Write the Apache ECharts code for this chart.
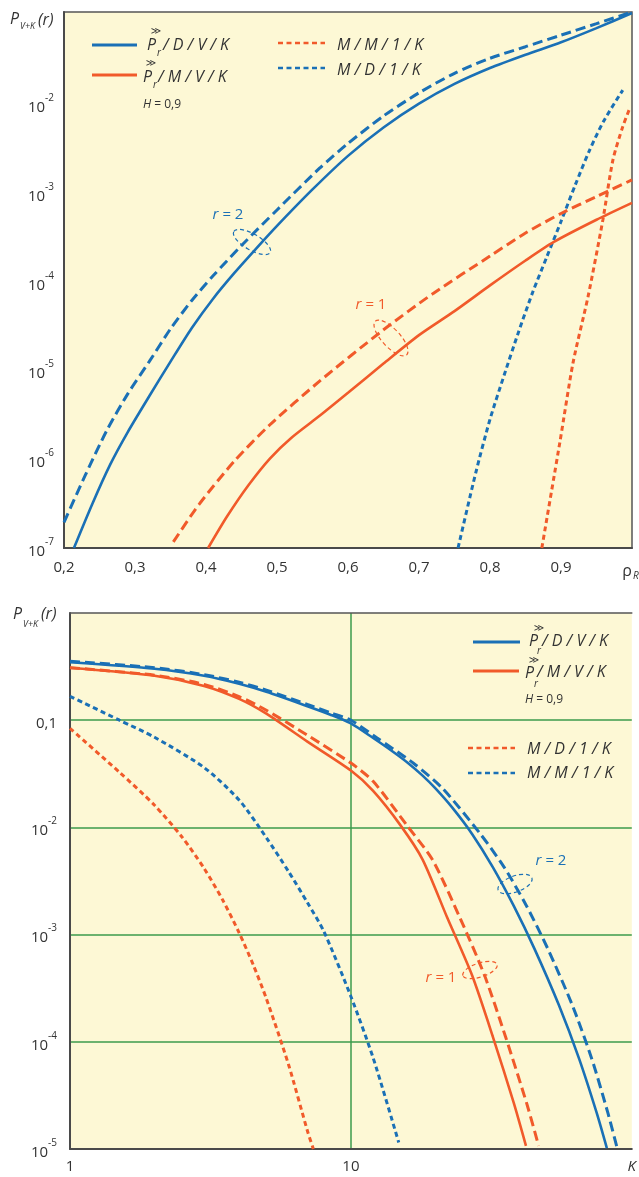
<!DOCTYPE html>
<html><head><meta charset="utf-8">
<script src="https://cdn.jsdelivr.net/npm/echarts@6.0.0/dist/echarts.min.js"></script>
<style>html,body{margin:0;padding:0;background:#fff}#c{width:639px;height:1177px}</style>
</head><body><div id="c"></div>
<script>
// ---------- DATA (top chart: x = rho_R, y = P_{V+K}(r)) ----------
const topBlueSolid  = [[0.214,1.0e-7],[0.24,3.16e-7],[0.265,8.71e-7],[0.29,2.04e-6],[0.32,5.13e-6],[0.35,1.26e-5],[0.38,3.02e-5],[0.41,6.46e-5],[0.44,1.26e-4],[0.47,2.34e-4],[0.5,4.27e-4],[0.55,1.10e-3],[0.6,2.63e-3],[0.65,5.50e-3],[0.7,1.02e-2],[0.75,1.70e-2],[0.8,2.57e-2],[0.85,3.63e-2],[0.9,5.01e-2],[0.95,7.24e-2],[1.0,0.107]];
const topBlueDashed = [[0.2,1.95e-7],[0.23,6.61e-7],[0.26,2.09e-6],[0.29,5.50e-6],[0.32,1.26e-5],[0.35,2.95e-5],[0.38,6.17e-5],[0.41,1.17e-4],[0.45,2.57e-4],[0.5,6.46e-4],[0.56,1.91e-3],[0.6,3.63e-3],[0.65,7.41e-3],[0.7,1.35e-2],[0.75,2.24e-2],[0.8,3.31e-2],[0.85,4.47e-2],[0.9,6.03e-2],[0.95,8.13e-2],[1.0,0.110]];
const topOrangeSolid  = [[0.403,1.0e-7],[0.43,2.29e-7],[0.46,5.13e-7],[0.49,1.02e-6],[0.52,1.74e-6],[0.56,3.09e-6],[0.6,5.62e-6],[0.65,1.20e-5],[0.7,2.51e-5],[0.75,4.68e-5],[0.8,9.12e-5],[0.85,1.74e-4],[0.89,2.82e-4],[0.95,5.01e-4],[1.0,7.76e-4]];
const topOrangeDashed = [[0.354,1.17e-7],[0.39,3.09e-7],[0.44,9.55e-7],[0.49,2.45e-6],[0.56,7.59e-6],[0.65,2.88e-5],[0.72,7.41e-5],[0.8,1.95e-4],[0.85,3.55e-4],[0.9,5.89e-4],[0.95,9.12e-4],[1.0,1.41e-3]];
const topBlueDotted   = [[0.755,1.0e-7],[0.78,7.08e-7],[0.8,2.82e-6],[0.82,8.91e-6],[0.84,2.69e-5],[0.86,7.59e-5],[0.88,1.91e-4],[0.9,4.79e-4],[0.92,1.23e-3],[0.94,3.02e-3],[0.96,6.46e-3],[0.987,1.45e-2]];
const topOrangeDotted = [[0.873,1.0e-7],[0.899,1.66e-6],[0.917,1.23e-5],[0.938,6.76e-5],[0.959,5.01e-4],[0.973,2.34e-3],[0.987,5.62e-3],[0.997,9.12e-3]];

// ---------- DATA (bottom chart: x = K, y = P_{V+K}(r)) ----------
const botBlueSolid  = [[1,0.347],[2,0.302],[3,0.260],[4,0.219],[5,0.184],[7,0.135],[8.5,0.112],[10,0.0933],[12,0.0682],[14,0.0516],[16,0.0397],[18,0.0304],[20,0.0231],[23,0.0152],[27,8.69e-3],[32,4.26e-3],[38,1.85e-3],[45,7.40e-4],[55,2.20e-4],[65,6.89e-5],[75,2.17e-5],[81.5,1.02e-5]];
const botBlueDashed = [[1,0.355],[2,0.309],[3,0.266],[4,0.226],[5,0.191],[7,0.140],[8.5,0.117],[10,0.100],[12.4,0.0682],[16.7,0.0397],[21.2,0.0231],[28.9,8.69e-3],[35.1,4.26e-3],[42.2,1.85e-3],[50.2,7.40e-4],[61.4,2.20e-4],[72.1,6.89e-5],[82.2,2.17e-5],[88.7,1.02e-5]];
const botOrangeSolid  = [[1,0.309],[2,0.260],[3,0.209],[4,0.158],[5,0.115],[7,0.0631],[10,0.0339],[12,0.0219],[15,0.0105],[18,5.01e-3],[22,1.45e-3],[27,4.17e-4],[32,1.12e-4],[38,2.69e-5],[42,1.07e-5]];
const botOrangeDashed = [[1,0.309],[2,0.263],[3,0.216],[4,0.166],[5,0.124],[7,0.0724],[10,0.0398],[12,0.0269],[15.8,0.0105],[19.5,5.01e-3],[24.4,1.45e-3],[29.9,4.17e-4],[35.5,1.12e-4],[42.2,2.69e-5],[46.6,1.07e-5]];
const botBlueDotted   = [[1,0.167],[1.5,0.100],[2,0.0693],[3,0.0362],[4,0.0180],[5,8.02e-3],[6,3.87e-3],[7,1.99e-3],[8,1.08e-3],[10,2.65e-4],[12,7.08e-5],[14.8,1.15e-5]];
const botOrangeDotted = [[1,0.0838],[1.5,0.0327],[2,0.0161],[2.5,8.18e-3],[3,4.16e-3],[3.5,2.09e-3],[4,1.04e-3],[4.5,5.16e-4],[5,2.53e-4],[6,6.11e-5],[7,1.48e-5],[7.35,1.0e-5]];

// ---------- STYLE ----------
const BLUE='#1a70b6', ORANGE='#f15a2a', BG='#fdf8d5', GREEN='#3b9b4b', AX='#4a4a4a', TXT='#333333';
const FONT='"Open Sans","Noto Sans","DejaVu Sans",sans-serif';
const SYMFONT='"DejaVu Sans",sans-serif';

function mk(name, data, idx, color, kind){
  const ls = {color: color, width: kind==='solid'?2.6:3,
    type: kind==='solid'?'solid':(kind==='dash'?[10,5]:[5,3.5]), cap:'butt'};
  return {name:name, type:'line', data:data, xAxisIndex:idx, yAxisIndex:idx,
    showSymbol:false, symbol:'none', smooth:0.25,
    lineStyle:ls, itemStyle:{color:color}, z:3, silent:true, animation:false};
}

const supRich = {
  b:{fontSize:15, lineHeight:22, verticalAlign:'bottom', color:TXT, fontFamily:FONT},
  s:{fontSize:10, verticalAlign:'top', color:TXT, fontFamily:FONT}
};

function T(text, x, y, size, o){
  o = o || {};
  return {type:'text', x:x, y:y, z:100, silent:true,
    style:Object.assign({text:text, fill:o.fill||TXT,
      font:(o.italic?'italic ':'') + size + 'px ' + (o.family||FONT),
      align:o.align||'left', verticalAlign:'middle'}, o.extra||{})};
}
function L(x1,x2,y,color,dash,w){
  return {type:'line', z:100, silent:true, shape:{x1:x1,y1:y,x2:x2,y2:y},
    style:{stroke:color, lineWidth:w||3, lineDash:dash||null}};
}
function E(cx,cy,rx,ry,rotDeg,color){
  return {type:'ellipse', x:cx, y:cy, rotation:rotDeg*Math.PI/180, z:100, silent:true,
    shape:{cx:0,cy:0,rx:rx,ry:ry}, style:{fill:'none', stroke:color, lineWidth:1.2, lineDash:[4,3]}};
}
const hRich = {rich:{i:{fontStyle:'italic', fontSize:12, fontFamily:FONT, fill:TXT}}};
const rRich = c => ({rich:{i:{fontStyle:'italic', fontSize:15, fontFamily:FONT, fill:c}}});

const graphics = [
  // axis names
  T('P',10,19,16,{italic:true}), T('V+K',20,26,9,{italic:true}), T('(r)',38,20,16,{italic:true}),
  T('P',13,614,16,{italic:true}), T('V+K',23,624,9,{italic:true}), T('(r)',41,614,16,{italic:true}),
  // x-axis end label rho_R
  T('\u03C1',627,571,16,{align:'center'}), T('R',633,576,10,{italic:true}),
  // top legend
  L(92,137,45,BLUE,null,3),
  T('\u226B',156,31,10,{align:'center', family:SYMFONT}), T('P',147,45,16,{italic:true}), T('r',157,53,10,{italic:true}),
  T('/ D / V / K',163,45,16,{italic:true}),
  L(92,137,75,ORANGE,null,3),
  T('\u226B',151,63,10,{align:'center', family:SYMFONT}), T('P',143,77,16,{italic:true}), T('r',153,85,10,{italic:true}),
  T('/ M / V / K',158,77,16,{italic:true}),
  T('{i|H} = 0,9',143,105,12,{extra:hRich}),
  L(278,325,43,ORANGE,[5,3.5],2.6), T('M / M / 1 / K',337,45,16,{italic:true}),
  L(278,325,68,BLUE,[5,3.5],2.6), T('M / D / 1 / K',337,70,16,{italic:true}),
  // top annotations
  T('{i|r} = 2',228,215,15,{align:'center', fill:BLUE, extra:rRich(BLUE)}),
  E(252,242,21,8,-30,BLUE),
  T('{i|r} = 1',371,305,15,{align:'center', fill:ORANGE, extra:rRich(ORANGE)}),
  E(391,338,23,9,-47,ORANGE),
  // bottom legend
  L(473,520,642,BLUE,null,3),
  T('\u226B',539,628,10,{align:'center', family:SYMFONT}), T('P',529,641,16,{italic:true}), T('r',537,651,10,{italic:true}),
  T('/ D / V / K',542,641,16,{italic:true}),
  L(473,519,671,ORANGE,null,3),
  T('\u226B',534,660,10,{align:'center', family:SYMFONT}), T('P',525,673,16,{italic:true}), T('r',534,684,10,{italic:true}),
  T('/ M / V / K',537,672,16,{italic:true}),
  T('{i|H} = 0,9',525,700,12,{extra:hRich}),
  L(468,515,748,ORANGE,[5,3.5],2.6), T('M / D / 1 / K',527,749,16,{italic:true}),
  L(468,515,773,BLUE,[5,3.5],2.6), T('M / M / 1 / K',527,773,16,{italic:true}),
  // bottom annotations
  T('{i|r} = 2',551,861,15,{align:'center', fill:BLUE, extra:rRich(BLUE)}),
  E(515,884,18,8,20,BLUE),
  T('{i|r} = 1',441,978,15,{align:'center', fill:ORANGE, extra:rRich(ORANGE)}),
  E(480,970,18,7,18,ORANGE)
];

const chart = echarts.init(document.getElementById('c'), null, {renderer:'canvas'});
chart.setOption({
  animation:false,
  backgroundColor:'#ffffff',
  grid:[
    {left:64, top:12, width:568, height:536, show:true, backgroundColor:BG, borderColor:'#555', borderWidth:1.5},
    {left:70, top:613, width:569, height:536, show:true, backgroundColor:BG, borderColor:'transparent', borderWidth:0}
  ],
  xAxis:[
    {type:'value', gridIndex:0, min:0.2, max:1.0, interval:0.1,
      axisLine:{show:true, onZero:false, lineStyle:{color:AX, width:2}}, axisTick:{show:false}, splitLine:{show:false},
      axisLabel:{margin:12, fontSize:15, color:TXT, fontFamily:FONT, showMinLabel:true, showMaxLabel:true,
        formatter:function(v){ if (Math.abs(v-1)<1e-6) return ''; return v.toFixed(1).replace('.', ','); }}},
    {type:'log', gridIndex:1, min:1, max:100, logBase:10,
      axisLine:{show:true, onZero:false, lineStyle:{color:AX, width:2}}, axisTick:{show:false},
      splitLine:{show:true, showMinLine:false, showMaxLine:false, lineStyle:{color:GREEN, width:1.5}},
      axisLabel:{margin:10, fontSize:15, color:TXT, fontFamily:FONT, showMinLabel:true, showMaxLabel:true,
        formatter:function(v){ const e=Math.round(Math.log10(v)); if (e===2) return '{k|K}'; return e===0?'1':'10'; },
        rich:{k:{fontSize:15, fontStyle:'italic', color:TXT, fontFamily:FONT}}}},
    {type:'log', gridIndex:1, min:1, max:100, logBase:10, position:'top',
      axisLine:{show:true, onZero:false, lineStyle:{color:'#555', width:1.5}}, axisTick:{show:false},
      axisLabel:{show:false}, splitLine:{show:false}}
  ],
  yAxis:[
    {type:'log', gridIndex:0, min:1e-7, max:0.11, logBase:10,
      axisLine:{show:true, lineStyle:{color:AX, width:2}}, axisTick:{show:false}, splitLine:{show:false},
      axisLabel:{margin:10, color:TXT, fontFamily:FONT, fontSize:15, showMinLabel:true,
        formatter:function(v){ const l=Math.log10(v), e=Math.round(l); if (Math.abs(l-e)>0.01 || e>=-1) return ''; return '{b|10}{s|'+e+'}'; },
        rich:supRich}},
    {type:'log', gridIndex:1, min:1e-5, max:1, logBase:10,
      axisLine:{show:true, lineStyle:{color:AX, width:2}}, axisTick:{show:false},
      splitLine:{show:true, showMinLine:false, showMaxLine:false, lineStyle:{color:GREEN, width:1.5}},
      axisLabel:{margin:13, color:TXT, fontFamily:FONT, fontSize:15, showMinLabel:true, showMaxLabel:true,
        formatter:function(v){ const e=Math.round(Math.log10(v)); if (e===0) return ''; if (e===-1) return '{b|0,1}'; return '{b|10}{s|'+e+'}'; },
        rich:supRich}}
  ],
  series:[
    mk('M/D/1/K (top)', topBlueDotted, 0, BLUE, 'dot'),
    mk('M/M/1/K (top)', topOrangeDotted, 0, ORANGE, 'dot'),
    mk('r=2 dashed (top)', topBlueDashed, 0, BLUE, 'dash'),
    mk('r=1 dashed (top)', topOrangeDashed, 0, ORANGE, 'dash'),
    mk('P/D/V/K r=2 (top)', topBlueSolid, 0, BLUE, 'solid'),
    mk('P/M/V/K r=1 (top)', topOrangeSolid, 0, ORANGE, 'solid'),
    mk('M/M/1/K (bottom)', botBlueDotted, 1, BLUE, 'dot'),
    mk('M/D/1/K (bottom)', botOrangeDotted, 1, ORANGE, 'dot'),
    mk('r=2 dashed (bottom)', botBlueDashed, 1, BLUE, 'dash'),
    mk('r=1 dashed (bottom)', botOrangeDashed, 1, ORANGE, 'dash'),
    mk('P/D/V/K r=2 (bottom)', botBlueSolid, 1, BLUE, 'solid'),
    mk('P/M/V/K r=1 (bottom)', botOrangeSolid, 1, ORANGE, 'solid')
  ],
  graphic:graphics
});
</script></body></html>
